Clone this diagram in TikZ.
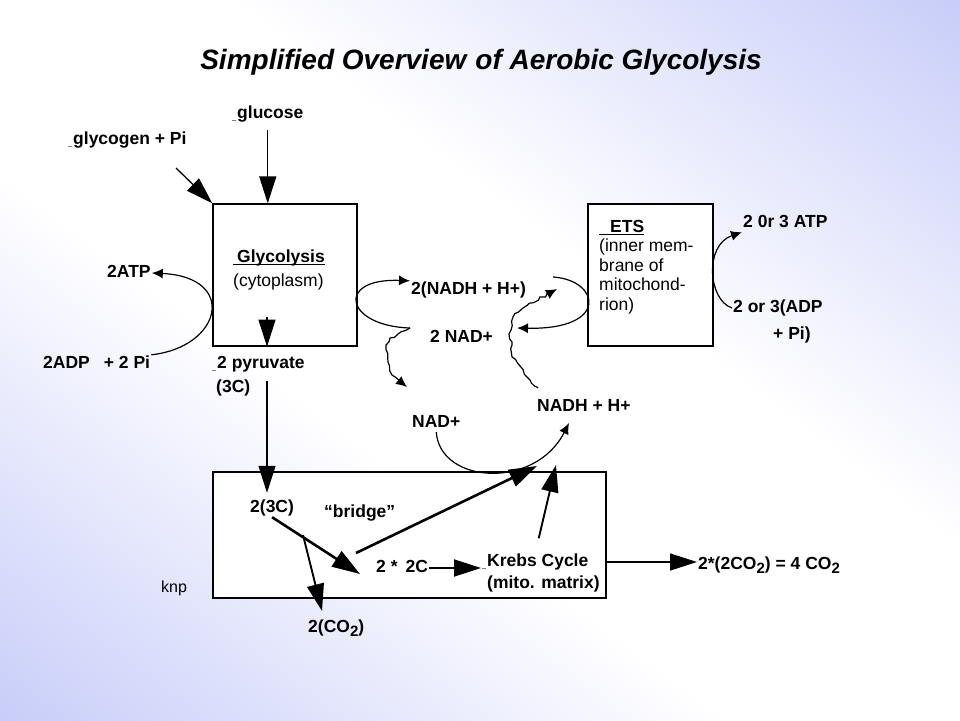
\documentclass[tikz,border=0pt]{standalone}
\usepackage{fontspec}
\setmainfont{Liberation Sans}
\usepackage{tikz}
\usetikzlibrary{arrows.meta,decorations.pathmorphing}

\definecolor{slideblue}{RGB}{200,205,249}
\pgfdeclarehorizontalshading{slidefill}{100bp}{color(0bp)=(slideblue); color(38bp)=(white); color(62bp)=(white); color(100bp)=(slideblue)}

\newcommand{\gapmark}{\textcolor{gray}{\rule[-2pt]{4pt}{1pt}}\kern1pt}
\newcommand{\low}[1]{\raisebox{-4pt}{\fontsize{15}{15}\selectfont #1}}
\newcommand{\ulined}[1]{\setbox0\hbox{#1}\rlap{\rule[-2.4pt]{\wd0}{1.1pt}}\box0}

\tikzset{
  every node/.style={font=\fontsize{17.5}{20}\selectfont\bfseries, inner sep=1pt},
  txt/.style={anchor=west, text height=12.5pt, text depth=3.5pt},
  lighttxt/.style={txt, font=\fontsize{17.5}{20}\selectfont},
  panel/.style={draw, line width=1.3pt, fill=white, inner sep=0pt},
  bigtip/.style={line width=1.3pt, -{Triangle[length=27pt,width=17pt]}},
  midarrow/.style={line width=1.9pt, -{Triangle[length=27pt,width=17pt]}},
  heavy/.style={line width=2.6pt, -{Triangle[length=28pt,width=18pt]}},
  curvearrow/.style={line width=1.2pt, -{Latex[length=11pt,width=10pt]}},
  wiggle/.style={line width=1.2pt, -{Latex[length=11pt,width=10pt]}, decorate,
    decoration={random steps, segment length=4pt, amplitude=1.4pt, pre length=1pt, post length=8pt}}
}

\begin{document}
\begin{tikzpicture}[x=1pt,y=-1pt]
        \useasboundingbox (0,0) rectangle (960,720);
        % slide background
        \begin{scope}
          \clip (0,0) rectangle (960,720);
          \pgftransformcm{9.6}{7.2}{9.6}{-7.2}{\pgfpoint{480pt}{-360pt}}
          \pgflowlevelsynccm
          \pgfuseshading{slidefill}
        \end{scope}
        \pgfmathsetseed{7}
        % boxes
        \node [panel, minimum width=144, minimum height=142] (3) at (285,275) {};
        \node [panel, minimum width=125, minimum height=142] (12) at (650.5,275) {};
        \node [panel, minimum width=393, minimum height=126] (19) at (409.5,535) {};
        % labels
        \node [font=\fontsize{28}{30}\selectfont\bfseries\itshape] (28) at (481,62) {Simplified Overview\hspace{9pt}of Aerobic Glycolysis};
        \node [txt] (1) at (231,114) {\gapmark glucose};
        \node [txt] (2) at (67,140) {\gapmark glycogen + Pi};
        \node [txt] (4) at (232,258) {\ulined{\hspace{4pt}Glycolysis}};
        \node [lighttxt] (5) at (232,282) {(cytoplasm)};
        \node [txt] (6) at (106,273) {2ATP};
        \node [txt] (7) at (42,364) {2ADP\hspace{14pt}+ 2 Pi};
        \node [txt] (8) at (211,364) {\gapmark 2 pyruvate};
        \node [txt] (9) at (215,388) {(3C)};
        \node [txt] (10) at (410,290) {2(NADH + H+)};
        \node [txt] (11) at (429,338) {2 NAD+};
        \node [anchor=north west, align=left, font=\fontsize{17.5}{19.5}\selectfont] (13) at (598,219)
          {{\bfseries\ulined{\hspace{11pt}ETS}}\\(inner mem-\\brane of\\mitochond-\\rion)};
        \node [txt] (14) at (742,223) {2 0r 3 ATP};
        \node [txt] (15) at (732,308) {2 or 3(ADP};
        \node [txt] (16) at (772,335) {+ Pi)};
        \node [txt] (17) at (536,407) {NADH + H+};
        \node [txt] (18) at (411,423) {NAD+};
        \node [txt] (20) at (249,508) {2(3C)};
        \node [txt] (21) at (323,513) {“bridge”};
        \node [txt] (22) at (375,568) {2 *\hspace{8pt}2C};
        \node [txt] (23) at (481,562) {\gapmark Krebs Cycle};
        \node [txt] (24) at (486,584) {(mito. matrix)};
        \node [txt] (25) at (697,565) {2*(2CO\low{2}) = 4 CO\low{2}};
        \node [txt] (26) at (307,628) {2(CO\low{2})};
        \node [lighttxt, font=\fontsize{16}{18}\selectfont] (27) at (160,588) {knp};
        % free ends
        \coordinate (p1) at (176,168);
        \coordinate (p2) at (267,317);
        \coordinate (p3) at (267,381);
        \coordinate (p5) at (410,328);
        \coordinate (p6) at (407,387);
        \coordinate (p7) at (538,388);
        \coordinate (p8) at (557,289);
        \coordinate (p9) at (553,277);
        \coordinate (p10) at (517,328);
        \coordinate (p11) at (569,423);
        \coordinate (p12) at (356,553);
        \coordinate (p13) at (537,466);
        \coordinate (p14) at (556,465);
        \coordinate (p15) at (360,574);
        \coordinate (p16) at (303,535);
        \coordinate (p17) at (322,611);
        % glycolysis
        \draw [bigtip, shorten <=7pt] (1.south) to (3.north -| 1.south);
        \draw [bigtip] (p1) to (3.north west);
        \draw [bigtip] (p2) to (3.south -| p2);
        \draw [bigtip, shorten >=6pt] (p3) to (20.north -| p3);
        \draw [curvearrow] (7.north east) .. controls (222,347) and (238,277) .. (6.east);
        \draw [curvearrow] (p5) .. controls (345,326) and (335,278) .. (10.north west);
        \draw [wiggle] (p5) -- (390,338) -- (386,345) -- (388,362) -- (392,375) -- (p6);
        % ETS
        \draw [curvearrow] (p9) .. controls (600,280) and (610,330) .. (p10);
        \draw [wiggle] (p7) -- (530,380) -- (520,366) -- (512,357) -- (512,342) -- (509,334) -- (513,317) -- (523,308) -- (p8);
        \draw [curvearrow] (15.west) .. controls (708,300) and (704,245) .. (14.south west);
        % Krebs
        \draw [curvearrow] (18.south) .. controls (440,484) and (535,490) .. (p11);
        \draw [heavy] (20.south) to (p15);
        \draw [heavy] (p12) to (p13);
        \draw [midarrow] (p16) to (p17);
        \draw [midarrow, shorten <=15pt] (23.north) to (p14);
        \draw [midarrow] (22.east) to (22.east -| 23.west);
        \draw [bigtip] (23.east -| 19.east) to (23.east -| 25.west);
\end{tikzpicture}
\end{document}
